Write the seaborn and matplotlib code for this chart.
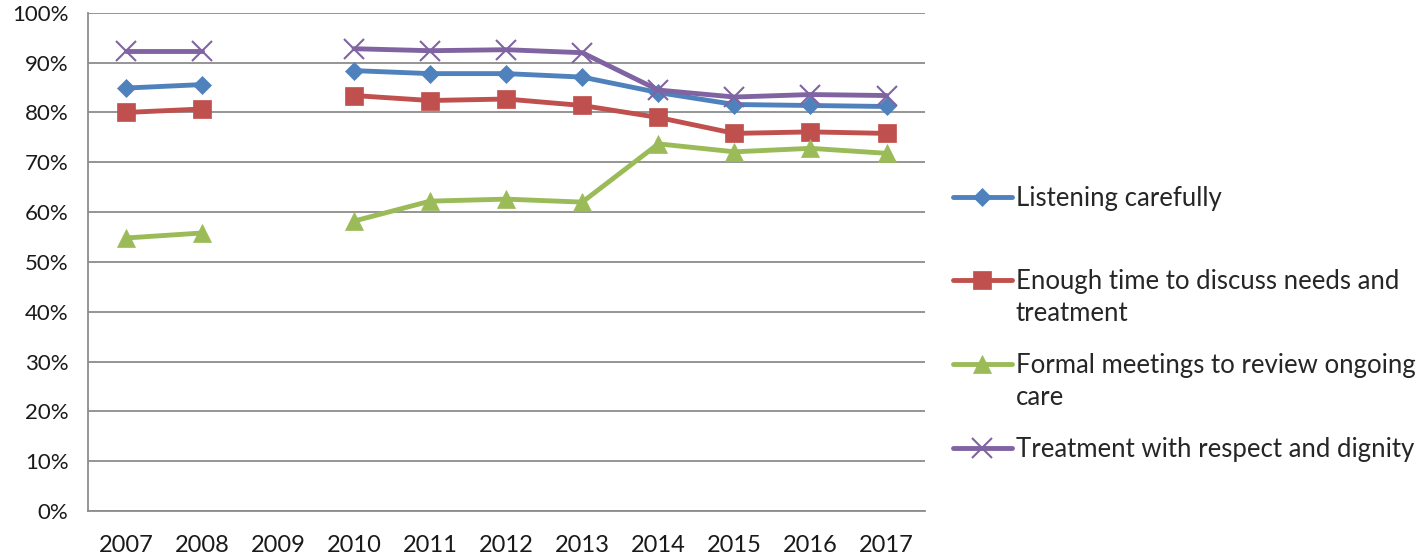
import numpy as np
import pandas as pd
import seaborn as sns
from matplotlib import pyplot as plt
from matplotlib.ticker import PercentFormatter
from matplotlib.lines import Line2D

years = [2007, 2008, 2009, 2010, 2011, 2012, 2013, 2014, 2015, 2016, 2017]
listening = [84.9, 85.6, np.nan, 88.4, 87.8, 87.8, 87.1, 84.0, 81.6, 81.4, 81.2]
enough_time = [80.0, 80.7, np.nan, 83.4, 82.4, 82.7, 81.4, 79.0, 75.8, 76.1, 75.8]
formal_meetings = [54.8, 55.8, np.nan, 58.2, 62.2, 62.6, 62.0, 73.7, 72.1, 72.8, 71.8]
respect = [92.3, 92.3, np.nan, 92.8, 92.4, 92.6, 92.0, 84.5, 83.1, 83.6, 83.4]

series_names = ['Listening carefully',
                'Enough time to discuss needs and treatment',
                'Formal meetings to review ongoing care',
                'Treatment with respect and dignity']
# legend text as wrapped in the original (first line, continuation)
legend_first = ['Listening carefully',
                'Enough time to discuss needs and',
                'Formal meetings to review ongoing',
                'Treatment with respect and dignity']
legend_rest = ['', 'treatment', 'care', '']
colors = ['#4F81BD', '#C0504D', '#9BBB59', '#8064A2']
markers = ['D', 's', '^', 'x']
msizes = [9, 13, 13, 14]

# long form, split by missing year so the line gets a gap
rows = []
for name, vals in zip(series_names, [listening, enough_time, formal_meetings, respect]):
    seg = 0
    for yr, v in zip(years, vals):
        if np.isnan(v):
            seg += 1
            continue
        rows.append({'year': yr, 'value': v, 'series': name, 'seg': seg})
df = pd.DataFrame(rows)

sns.set_style('white')
plt.rcParams['font.family'] = ['Lato', 'DejaVu Sans']

fig = plt.figure(figsize=(14.18, 5.59), dpi=100)
ax = fig.add_axes([0.062, 0.086, 0.590, 0.891])

for i, name in enumerate(series_names):
    sub = df[df['series'] == name]
    sns.lineplot(data=sub, x='year', y='value', units='seg', estimator=None,
                 color=colors[i], marker=markers[i], markersize=msizes[i],
                 markeredgecolor=colors[i], markeredgewidth=1.5 if markers[i] == 'x' else 0.5,
                 linewidth=3.5, ax=ax, legend=False, zorder=3)

ax.set_xlim(2006.5, 2017.5)
ax.set_ylim(0, 100)
ax.set_xticks(years)
ax.set_xticklabels([str(y) for y in years])
ax.set_yticks(np.arange(0, 101, 10))
ax.yaxis.set_major_formatter(PercentFormatter(100, decimals=0))
ax.set_xlabel('')
ax.set_ylabel('')
ax.grid(axis='y', color='#8c8c8c', linewidth=1.3)
ax.set_axisbelow(True)
for s in ['top', 'right']:
    ax.spines[s].set_visible(False)
for s in ['left', 'bottom']:
    ax.spines[s].set_color('#8c8c8c')
    ax.spines[s].set_linewidth(1.3)
ax.tick_params(axis='both', length=0, colors='#1a1a1a')
ax.tick_params(axis='y', pad=14, labelsize=16)
ax.tick_params(axis='x', pad=17, labelsize=17)

handles = [Line2D([0], [0], color=colors[i], marker=markers[i], markersize=msizes[i],
                  markeredgecolor=colors[i], markeredgewidth=1.5 if markers[i] == 'x' else 0.5,
                  linewidth=3.5) for i in range(4)]
leg = fig.legend(handles, legend_first, loc='center left', bbox_to_anchor=(0.672, 0.421),
                 frameon=False, fontsize=18.5, handlelength=2.3, handletextpad=0.15,
                 labelspacing=2.28, borderpad=0, borderaxespad=0)

# continuation lines of the wrapped legend labels
fig.canvas.draw()
renderer = fig.canvas.get_renderer()
for txt, rest in zip(leg.get_texts(), legend_rest):
    if not rest:
        continue
    bb = txt.get_window_extent(renderer)
    fig.text(bb.x0 / fig.bbox.width, (bb.y0 - 32) / fig.bbox.height, rest,
             fontsize=18.5, color=txt.get_color(), ha='left', va='bottom')

fig.savefig('out.png', dpi=100)
